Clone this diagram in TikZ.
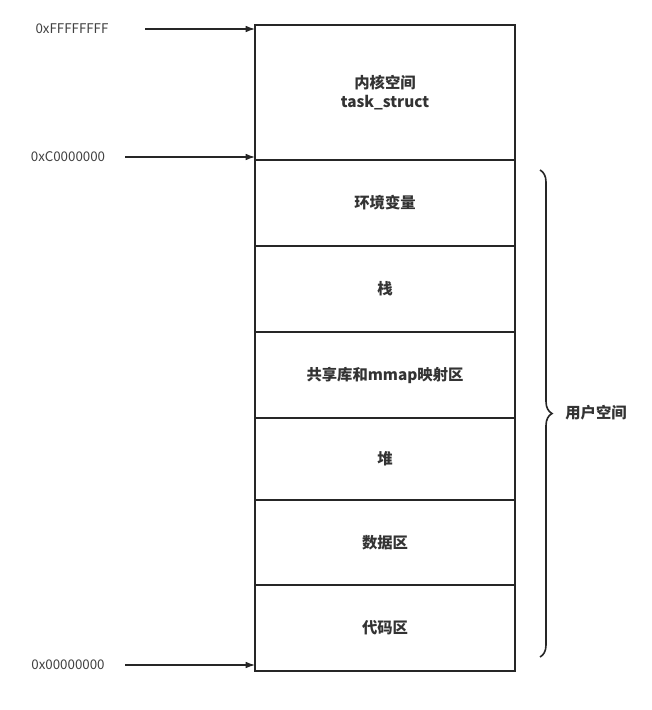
\documentclass[tikz,border=0pt]{standalone}
\usepackage{fontspec}
\setmainfont{Noto Sans CJK SC}
\usetikzlibrary{decorations.pathreplacing,arrows.meta}
\begin{document}
\begin{tikzpicture}[x=0.75pt,y=-0.75pt,
 seg/.style={draw=black!85,line width=0.9pt},
 lab/.style={font=\bfseries\fontsize{11.5}{14}\selectfont,text=black!80,align=center},
 addr/.style={font=\fontsize{10}{12}\selectfont,text=black!75},
 arr/.style={draw=black!85,line width=0.9pt,-{Latex[length=7pt,width=5pt]}}]
\useasboundingbox (0,0) rectangle (651,710);
\foreach \n/\a/\b/\t in {k/25/160/{内核空间\\task\_struct},e/160/246/环境变量,s/246/332/栈,m/332/418/共享库和mmap映射区,h/418/500/堆,d/500/585/数据区,c/585/671/代码区}{
 \draw[seg] (255,\a) rectangle (515,\b);
 \node[lab] (\n) at (385,{(\a+\b)/2}) {\t};
}
\node[addr] (a1) at (72,29) {0xFFFFFFFF};
\node[addr] (a2) at (68,157) {0xC0000000};
\node[addr] (a3) at (68,665) {0x00000000};
\coordinate (t1) at (255,29); \coordinate (t2) at (255,157); \coordinate (t3) at (255,665);
\coordinate (s1) at (145,29); \coordinate (s2) at (125,157); \coordinate (s3) at (125,665);
\draw[arr] (s1) -- (t1);
\draw[arr] (s2) -- (t2);
\draw[arr] (s3) -- (t3);
\coordinate (b1) at (540,170); \coordinate (b2) at (540,657);
\draw[seg,line width=1.2pt,decorate,decoration={brace,amplitude=9pt}] (b1) -- (b2);
\node[lab] (u) at (596,413) {用户空间};
\end{tikzpicture}
\end{document}
